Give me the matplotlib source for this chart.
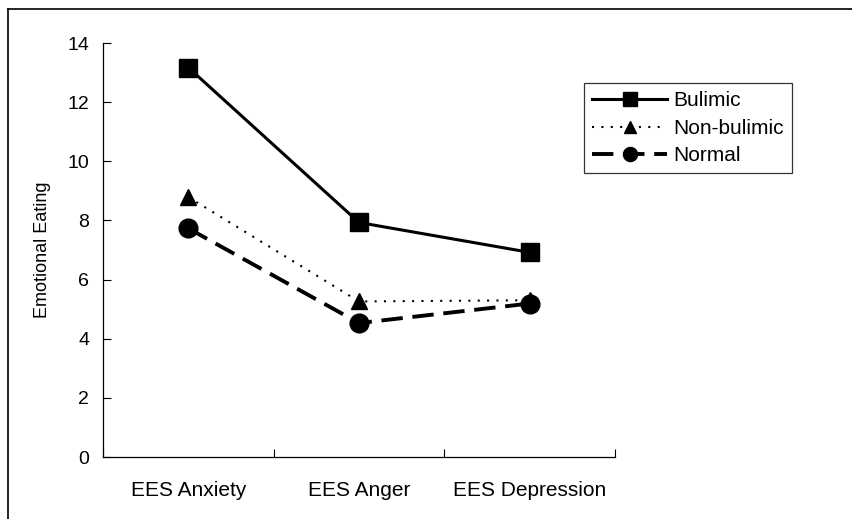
# imports
import matplotlib
matplotlib.use('Agg')
import matplotlib.pyplot as plt
from matplotlib.lines import Line2D

plt.rcParams['font.family'] = ['Liberation Sans', 'DejaVu Sans']

# data
categories = ['EES Anxiety', 'EES Anger', 'EES Depression']
bulimic = [13.17, 7.93, 6.92]
non_bulimic = [8.79, 5.26, 5.3]
normal = [7.73, 4.53, 5.19]

fig = plt.figure(figsize=(8.52, 5.19), dpi=100)
ax = fig.add_axes([103 / 852, 62 / 519, 512 / 852, 414 / 519])

x = [1, 2, 3]
ax.plot(x, bulimic, '-', color='black', lw=2.2, marker='s', markersize=13.5,
        label='Bulimic')
ax.plot(x, non_bulimic, color='black', lw=1.5, dashes=(1, 3.5), marker='^',
        markersize=11.5, label='Non-bulimic')
ax.plot(x, normal, color='black', lw=2.8, dashes=(5.5, 2.5), marker='o',
        markersize=13.5, label='Normal')

ax.set_xlim(0.5, 3.5)
ax.set_ylim(0, 14)
ax.set_yticks(range(0, 15, 2))
ax.tick_params(axis='y', direction='in', length=6, width=0.8,
               labelsize=14, pad=10)

# boundary ticks (no labels), category labels on minor ticks
ax.set_xticks([0.5, 1.5, 2.5, 3.5])
ax.set_xticklabels([])
ax.tick_params(axis='x', which='major', direction='in', length=6, width=0.8)
ax.set_xticks(x, minor=True)
ax.set_xticklabels(categories, minor=True)
ax.tick_params(axis='x', which='minor', length=0, labelsize=15, pad=17)

for s in ['top', 'right']:
    ax.spines[s].set_visible(False)
ax.spines['left'].set_linewidth(0.9)
ax.spines['bottom'].set_linewidth(0.9)

ax.set_ylabel('Emotional Eating', fontsize=13, labelpad=12)

leg = ax.legend(loc='upper left', bbox_to_anchor=(0.939, 0.903), fontsize=15,
                frameon=True, fancybox=False, edgecolor='black',
                borderaxespad=0, handlelength=3.6, handletextpad=0.3,
                borderpad=0.4, labelspacing=0.4, markerscale=0.75)
leg.get_frame().set_linewidth(0.9)

# outer frame (top and left edges only)
fig.add_artist(Line2D([8 / 852, 1], [1 - 9 / 519, 1 - 9 / 519],
                      transform=fig.transFigure, color='black', lw=1.2))
fig.add_artist(Line2D([8 / 852, 8 / 852], [0, 1 - 9 / 519],
                      transform=fig.transFigure, color='black', lw=1.2))

plt.savefig('out.png', dpi=100)
